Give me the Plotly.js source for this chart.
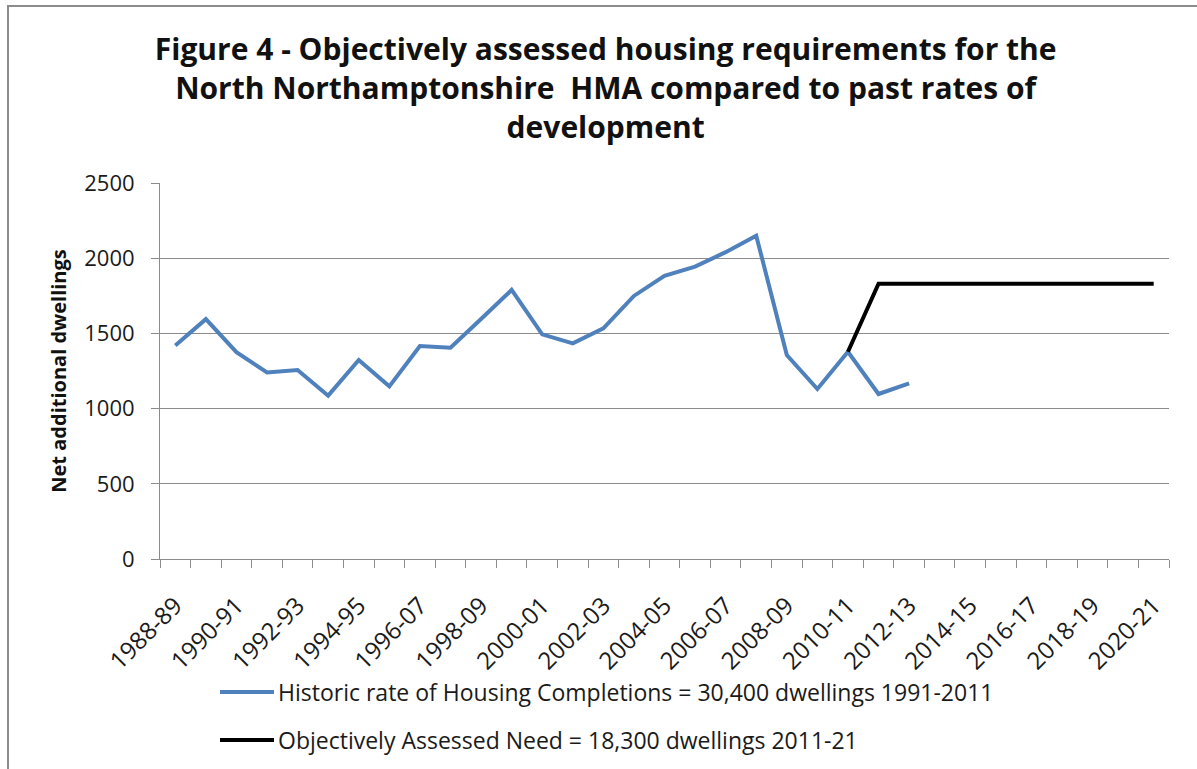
<!DOCTYPE html>
<html>
<head>
<meta charset="utf-8">
<script src="https://cdn.plot.ly/plotly-3.0.1.min.js"></script>
<style>
  html, body { margin: 0; padding: 0; background: #fff; overflow: hidden; }
  #chart { width: 1197px; height: 769px; }
  #frame { position: absolute; left: 7px; top: 5px; width: 1300px; height: 900px;
           border: 2px solid #8c8c8c; pointer-events: none; }
</style>
</head>
<body>
<div id="chart"></div>
<div id="frame"></div>
<script>
// Financial years (as labelled in the source chart)
const categories = [
  "1988-89","1989-90","1990-91","1991-92","1992-93","1993-94","1994-95","1995-96",
  "1996-07","1997-98","1998-09","1999-00","2000-01","2001-02","2002-03","2003-04",
  "2004-05","2005-06","2006-07","2007-08","2008-09","2009-10","2010-11","2011-12",
  "2012-13","2013-14","2014-15","2015-16","2016-17","2017-18","2018-19","2019-20",
  "2020-21"
];

// Historic rate of housing completions (1988-89 to 2012-13)
const historicValues = [
  1420, 1595, 1375, 1240, 1257, 1086, 1323, 1148,
  1416, 1405, 1596, 1789, 1494, 1434, 1534, 1749,
  1882, 1944, 2040, 2150, 1356, 1130, 1378, 1097,
  1168
];

// Objectively assessed need (2010-11 to 2020-21)
const oanStartIndex = 22;
const oanValues = [1378, 1830, 1830, 1830, 1830, 1830, 1830, 1830, 1830, 1830, 1830];

const seriesNames = [
  "Historic rate of Housing Completions = 30,400 dwellings 1991-2011",
  "Objectively Assessed Need = 18,300 dwellings 2011-21"
];
const seriesColors = ["#4F81BD", "#000000"];
const yTitle = "Net additional dwellings";
const chartTitle = "Figure 4 - Objectively assessed housing requirements for the<br>North Northamptonshire  HMA compared to past rates of<br>development";

const xHistoric = historicValues.map((v, i) => i);
const xOan = oanValues.map((v, i) => i + oanStartIndex);
const labelIdx = categories.map((c, i) => i).filter(i => i % 2 === 0);

const FONT = "Open Sans, Liberation Sans, sans-serif";

const traces = [
  {
    x: xHistoric, y: historicValues, type: "scatter", mode: "lines",
    name: seriesNames[0], showlegend: false,
    line: { color: seriesColors[0], width: 4 }
  },
  {
    x: xOan, y: oanValues, type: "scatter", mode: "lines",
    name: seriesNames[1], showlegend: false,
    line: { color: seriesColors[1], width: 4 }
  }
];

// Plot area geometry (px) used to place the legend in paper units
const L = 160, R = 28, T = 183, B = 210, W = 1197, H = 769;
const pw = W - L - R, ph = H - T - B;
const px2x = p => (p - L) / pw;
const py2y = p => (H - B - p) / ph;
const legendRows = [692, 740];

const shapes = [];
const annotations = [];
seriesNames.forEach((name, k) => {
  shapes.push({
    type: "line", xref: "paper", yref: "paper",
    x0: px2x(220), x1: px2x(274), y0: py2y(legendRows[k]), y1: py2y(legendRows[k]),
    line: { color: seriesColors[k], width: 4 }
  });
  annotations.push({
    xref: "paper", yref: "paper", x: px2x(276), y: py2y(legendRows[k]),
    xanchor: "left", yanchor: "middle", showarrow: false,
    text: name, font: { family: FONT, size: 23, color: "#1a1a1a" }
  });
});

const layout = {
  width: W, height: H,
  paper_bgcolor: "#ffffff", plot_bgcolor: "#ffffff",
  margin: { l: L, r: R, t: T, b: B },
  font: { family: FONT, color: "#1a1a1a" },
  title: {
    text: "<b>" + chartTitle + "</b>",
    font: { family: FONT, size: 30, color: "#111" },
    x: 0.506, xanchor: "center", xref: "container",
    y: 1 - 60 / 769, yanchor: "middle", yref: "container"
  },
  xaxis: {
    range: [-0.5, categories.length - 0.5],
    tickmode: "array",
    tickvals: labelIdx,
    ticktext: labelIdx.map(i => categories[i]),
    tickangle: -45,
    ticks: "",
    ticklabelstandoff: 22,
    tickfont: { family: FONT, size: 24, color: "#1a1a1a" },
    showgrid: false, zeroline: false,
    showline: true, linecolor: "#8c8c8c", linewidth: 1,
    minor: { tickmode: "linear", tick0: -0.5, dtick: 1, ticks: "outside",
             ticklen: 8, tickcolor: "#8c8c8c", tickwidth: 1, showgrid: false },
    fixedrange: true, automargin: false
  },
  yaxis: {
    range: [0, 2500], dtick: 500, tick0: 0,
    ticks: "outside", ticklen: 8, tickcolor: "#8c8c8c",
    ticklabelstandoff: 12,
    tickfont: { family: FONT, size: 22, color: "#1a1a1a" },
    showgrid: true, gridcolor: "#8c8c8c", gridwidth: 1,
    zeroline: false,
    showline: true, linecolor: "#8c8c8c", linewidth: 1,
    title: { text: "<b>" + yTitle + "</b>", font: { family: FONT, size: 20, color: "#111" }, standoff: 12 },
    fixedrange: true, automargin: false
  },
  showlegend: false,
  shapes: shapes,
  annotations: annotations
};

Plotly.newPlot("chart", traces, layout, { displayModeBar: false, staticPlot: true });
</script>
</body>
</html>
